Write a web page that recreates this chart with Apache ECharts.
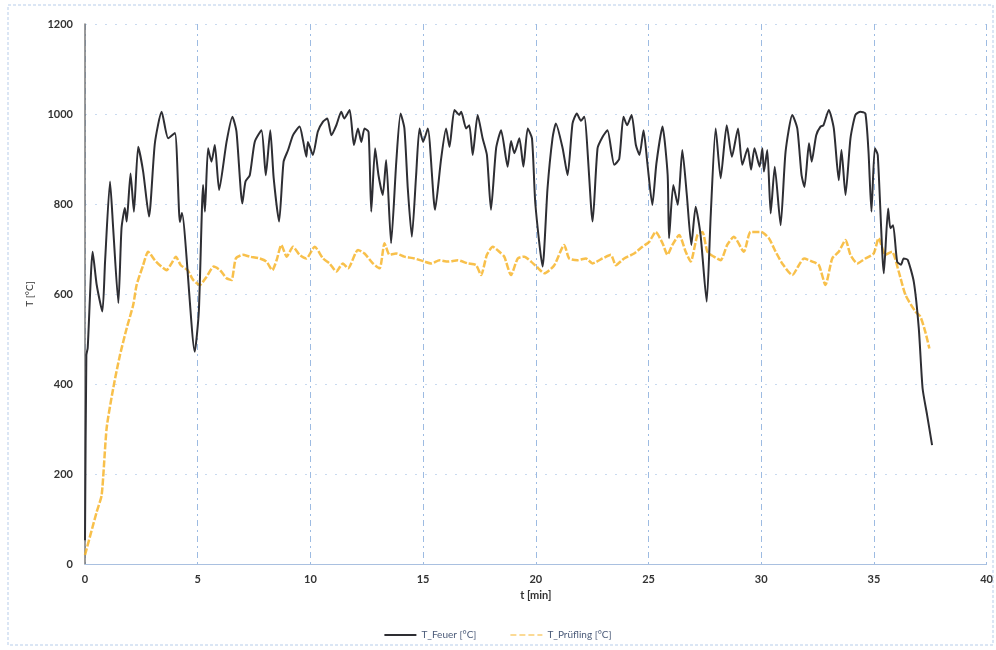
<!DOCTYPE html>
<html>
<head>
<meta charset="utf-8">
<script src="https://cdn.jsdelivr.net/npm/echarts@6/dist/echarts.min.js"></script>
<style>html,body{margin:0;padding:0;background:#fff;}#c{width:996px;height:650px;}</style>
</head>
<body>
<div id="c"></div>
<script>
// x-axis ticks (min) and y-axis ticks (°C)
const xTicks = [0, 5, 10, 15, 20, 25, 30, 35, 40];
const yTicks = [0, 200, 400, 600, 800, 1000, 1200];

// T_Feuer [°C]
const feuerT = [0,0.06,0.12,0.34,0.52,0.77,0.89,1.11,1.25,1.48,1.62,1.77,1.85,2.02,2.17,2.36,2.58,2.84,3.1,3.4,3.69,3.99,4.21,4.3,4.87,5.05,5.24,5.32,5.46,5.61,5.76,5.95,6.28,6.54,6.72,6.98,7.12,7.31,7.53,7.83,8.02,8.22,8.37,8.61,8.81,9.01,9.23,9.52,9.67,9.82,9.89,10.11,10.33,10.56,10.75,10.93,11.15,11.37,11.5,11.74,11.93,12.11,12.26,12.4,12.58,12.7,12.87,13.02,13.21,13.36,13.58,13.81,14.0,14.17,14.32,14.5,14.69,14.84,15.0,15.21,15.53,15.8,16.02,16.17,16.39,16.6,16.69,16.91,17.05,17.2,17.42,17.64,17.83,18.01,18.24,18.46,18.75,18.9,19.05,19.27,19.45,19.64,19.83,19.98,20.3,20.52,20.74,20.89,21.19,21.41,21.63,21.82,22.0,22.15,22.52,22.74,22.96,23.18,23.48,23.7,23.89,24.05,24.25,24.44,24.6,24.78,24.95,25.17,25.35,25.62,25.85,25.91,26.1,26.3,26.5,26.7,26.9,27.09,27.31,27.58,27.76,27.98,28.2,28.47,28.7,28.97,29.16,29.4,29.55,29.7,29.93,30.05,30.12,30.27,30.42,30.6,30.86,31.08,31.38,31.6,31.79,31.92,32.12,32.24,32.44,32.63,32.76,33.0,33.22,33.44,33.56,33.74,33.96,34.18,34.4,34.62,34.76,34.89,35.04,35.17,35.44,35.63,35.73,35.85,36.03,36.2,36.32,36.5,36.77,36.99,37.16,37.36,37.58];
const feuerV = [53,464,480,694,620,561,672,850,746,580,746,791,761,868,783,927,872,772,935,1005,946,958,760,780,472,561,842,783,924,894,931,831,938,994,961,801,850,864,938,964,864,964,858,761,894,920,953,972,942,905,938,909,961,983,990,953,975,1005,990,1009,931,968,938,968,960,783,924,864,820,898,713,894,1001,968,835,727,864,968,938,968,787,901,968,927,1009,998,1005,968,975,909,998,946,909,787,924,964,883,940,913,946,883,968,946,800,661,835,946,979,924,864,979,1001,985,994,761,924,949,964,887,900,994,975,998,931,909,964,890,798,890,972,864,724,842,798,920,820,709,794,731,583,775,968,857,975,905,968,887,924,876,924,883,924,872,920,779,883,753,916,998,968,864,838,935,894,953,972,975,1009,968,853,920,820,946,998,1005,1001,916,783,924,909,646,790,746,753,672,665,679,676,627,524,390,331,264];

// T_Prüfling [°C]
const pruefT = [0,0.52,0.74,0.96,1.25,1.55,1.85,2.14,2.29,2.58,2.8,3.1,3.32,3.62,3.84,4.03,4.25,4.55,4.8,5.09,5.39,5.71,5.99,6.28,6.5,6.69,7.0,7.31,7.75,8.05,8.31,8.5,8.71,8.95,9.23,9.52,9.82,10.19,10.56,10.85,11.15,11.44,11.67,12.11,12.4,12.77,13.07,13.29,13.51,13.8,14.17,14.62,15.06,15.36,15.73,16.1,16.54,16.98,17.35,17.57,17.83,18.09,18.38,18.6,18.9,19.2,19.49,19.79,20.05,20.38,20.82,21.26,21.48,21.85,22.22,22.52,22.96,23.33,23.55,23.92,24.36,24.73,25.03,25.32,25.62,25.84,26.06,26.36,26.65,26.87,27.17,27.39,27.61,27.9,28.2,28.49,28.79,29.23,29.53,30.0,30.34,30.64,30.93,31.38,31.67,31.9,32.27,32.56,32.85,33.15,33.44,33.74,33.96,34.26,34.62,34.99,35.21,35.51,35.8,36.1,36.4,36.84,37.06,37.28,37.46];
const pruefV = [20,116,153,302,390,464,524,576,620,664,694,675,664,653,668,683,664,653,631,620,638,661,653,635,631,679,687,683,679,672,653,675,709,683,705,687,679,705,679,668,650,668,657,698,690,668,657,713,687,690,683,679,672,668,675,672,675,668,664,642,687,705,694,683,642,679,683,672,660,646,664,709,679,675,679,668,679,687,664,679,690,705,716,738,713,687,709,731,694,672,731,738,694,683,675,709,727,694,738,738,724,694,668,642,664,679,672,664,620,679,694,720,687,668,679,690,724,687,694,650,598,561,550,516,479];

const feuer = feuerT.map((t, i) => [t, feuerV[i]]);
const pruef = pruefT.map((t, i) => [t, pruefV[i]]);

const chart = echarts.init(document.getElementById('c'));
const font = 'Lato, "Open Sans", sans-serif';
chart.setOption({
  backgroundColor: '#ffffff',
  animation: false,
  textStyle: { fontFamily: font },
  graphic: [{
    type: 'rect',
    shape: { x: 8, y: 5, width: 985, height: 640 },
    style: { fill: 'none', stroke: '#b7cdea', lineWidth: 1, lineDash: [3, 2] },
    silent: true
  }],
  grid: { left: 85, right: 8, top: 24, bottom: 86 },
  legend: {
    bottom: 5,
    left: 'center',
    itemWidth: 32,
    itemHeight: 2,
    itemGap: 34,
    textStyle: { fontFamily: font, fontSize: 10, color: '#4a5a78' },
    data: [
      { name: 'T_Feuer [°C]', icon: 'rect' },
      { name: 'T_Prüfling [°C]', icon: 'path://M0,0h6v1h-6z M9,0h6v1h-6z M18,0h6v1h-6z M27,0h5v1h-5z' }
    ]
  },
  xAxis: {
    type: 'value',
    min: 0, max: 40, interval: 5,
    name: 't [min]',
    nameLocation: 'middle',
    nameGap: 20,
    nameTextStyle: { fontSize: 11, color: '#333', fontWeight: 'bold', fontFamily: font },
    axisLine: { show: true, lineStyle: { color: '#a9c0e0', width: 1 } },
    axisTick: { show: false },
    axisLabel: { fontSize: 11, color: '#333', fontWeight: 'bold', margin: 10, fontFamily: font,
      formatter: v => xTicks.includes(v) ? String(v) : '' },
    splitLine: { show: true, lineStyle: { color: '#9dbbe2', type: [6, 4, 2, 4], width: 1 } }
  },
  yAxis: {
    type: 'value',
    min: 0, max: 1200, interval: 200,
    name: 'T [°C]',
    nameLocation: 'middle',
    nameGap: 50,
    nameRotate: 90,
    nameTextStyle: { fontSize: 10, color: '#333', fontFamily: font },
    axisLine: { show: true, lineStyle: { color: '#7a7a7a', width: 1.5 } },
    axisTick: { show: false },
    axisLabel: { fontSize: 11, color: '#333', fontWeight: 'bold', margin: 12, fontFamily: font,
      formatter: v => yTicks.includes(v) ? String(v) : '' },
    splitLine: { show: true, lineStyle: { color: '#c9daf0', type: [2, 8], width: 1 } }
  },
  series: [
    {
      name: 'T_Feuer [°C]',
      type: 'line',
      data: feuer,
      symbol: 'none',
      smooth: 0.2,
      lineStyle: { color: '#2e2e33', width: 2 },
      itemStyle: { color: '#2e2e33' },
      z: 3
    },
    {
      name: 'T_Prüfling [°C]',
      type: 'line',
      data: pruef,
      symbol: 'none',
      smooth: 0.2,
      lineStyle: { color: '#f7b52c', width: 2.5, type: [7, 2], opacity: 0.85 },
      itemStyle: { color: '#f7b52c' },
      z: 2
    }
  ]
});
</script>
</body>
</html>
